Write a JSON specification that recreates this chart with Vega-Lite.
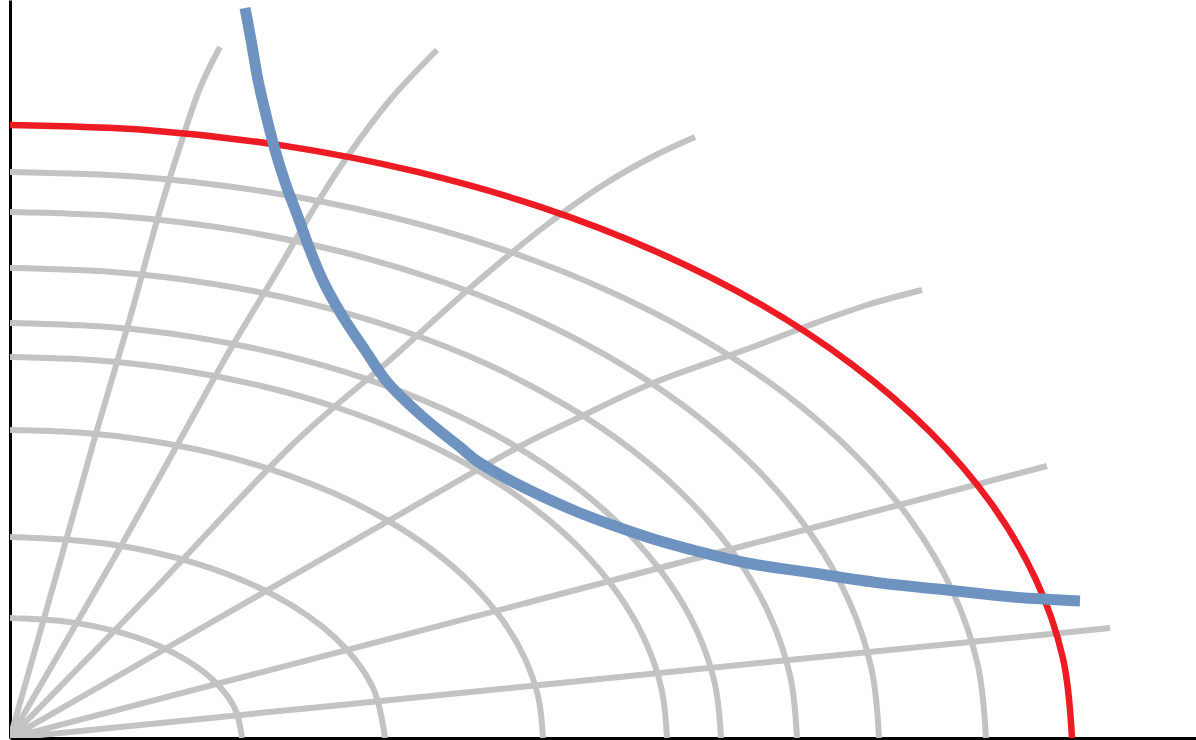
{
  "$schema": "https://vega.github.io/schema/vega-lite/v6.json",
  "width": 1186,
  "height": 738,
  "padding": {"left": 10, "top": 0, "right": 0, "bottom": 2},
  "autosize": {"type": "none"},
  "background": "white",
  "config": {
    "view": {"stroke": null},
    "axis": {"domainColor": "#000000", "domainWidth": 3, "ticks": false, "labels": false, "grid": false, "title": null, "zindex": 1}
  },
  "data": {"values": [
    {"g":"grid","s":"A1","i":0,"x":2.32,"y":0},{"g":"grid","s":"A1","i":1,"x":2.241,"y":0.311},{"g":"grid","s":"A1","i":2,"x":2.009,"y":0.6},{"g":"grid","s":"A1","i":3,"x":1.64,"y":0.849},{"g":"grid","s":"A1","i":4,"x":1.16,"y":1.039},{"g":"grid","s":"A1","i":5,"x":0.6,"y":1.159},{"g":"grid","s":"A1","i":6,"x":0,"y":1.2},
    {"g":"grid","s":"A2","i":0,"x":3.75,"y":0},{"g":"grid","s":"A2","i":1,"x":3.622,"y":0.52},{"g":"grid","s":"A2","i":2,"x":3.248,"y":1.005},{"g":"grid","s":"A2","i":3,"x":2.652,"y":1.421},{"g":"grid","s":"A2","i":4,"x":1.875,"y":1.741},{"g":"grid","s":"A2","i":5,"x":0.971,"y":1.942},{"g":"grid","s":"A2","i":6,"x":0,"y":2.01},
    {"g":"grid","s":"A3","i":0,"x":5.33,"y":0},{"g":"grid","s":"A3","i":1,"x":5.284,"y":0.402},{"g":"grid","s":"A3","i":2,"x":5.148,"y":0.797},{"g":"grid","s":"A3","i":3,"x":4.924,"y":1.179},{"g":"grid","s":"A3","i":4,"x":4.616,"y":1.54},{"g":"grid","s":"A3","i":5,"x":4.229,"y":1.875},{"g":"grid","s":"A3","i":6,"x":3.769,"y":2.178},{"g":"grid","s":"A3","i":7,"x":3.245,"y":2.444},{"g":"grid","s":"A3","i":8,"x":2.665,"y":2.667},{"g":"grid","s":"A3","i":9,"x":2.04,"y":2.846},{"g":"grid","s":"A3","i":10,"x":1.38,"y":2.975},{"g":"grid","s":"A3","i":11,"x":0.696,"y":3.054},{"g":"grid","s":"A3","i":12,"x":0,"y":3.08},
    {"g":"grid","s":"A4","i":0,"x":6.57,"y":0},{"g":"grid","s":"A4","i":1,"x":6.514,"y":0.497},{"g":"grid","s":"A4","i":2,"x":6.346,"y":0.986},{"g":"grid","s":"A4","i":3,"x":6.07,"y":1.458},{"g":"grid","s":"A4","i":4,"x":5.69,"y":1.905},{"g":"grid","s":"A4","i":5,"x":5.212,"y":2.319},{"g":"grid","s":"A4","i":6,"x":4.646,"y":2.694},{"g":"grid","s":"A4","i":7,"x":4.0,"y":3.023},{"g":"grid","s":"A4","i":8,"x":3.285,"y":3.3},{"g":"grid","s":"A4","i":9,"x":2.514,"y":3.52},{"g":"grid","s":"A4","i":10,"x":1.7,"y":3.68},{"g":"grid","s":"A4","i":11,"x":0.858,"y":3.777},{"g":"grid","s":"A4","i":12,"x":0,"y":3.81},
    {"g":"grid","s":"A5","i":0,"x":7.11,"y":0},{"g":"grid","s":"A5","i":1,"x":7.049,"y":0.542},{"g":"grid","s":"A5","i":2,"x":6.868,"y":1.074},{"g":"grid","s":"A5","i":3,"x":6.569,"y":1.588},{"g":"grid","s":"A5","i":4,"x":6.157,"y":2.075},{"g":"grid","s":"A5","i":5,"x":5.641,"y":2.526},{"g":"grid","s":"A5","i":6,"x":5.028,"y":2.934},{"g":"grid","s":"A5","i":7,"x":4.328,"y":3.292},{"g":"grid","s":"A5","i":8,"x":3.555,"y":3.594},{"g":"grid","s":"A5","i":9,"x":2.721,"y":3.834},{"g":"grid","s":"A5","i":10,"x":1.84,"y":4.009},{"g":"grid","s":"A5","i":11,"x":0.928,"y":4.114},{"g":"grid","s":"A5","i":12,"x":0,"y":4.15},
    {"g":"grid","s":"A6","i":0,"x":7.87,"y":0},{"g":"grid","s":"A6","i":1,"x":7.803,"y":0.613},{"g":"grid","s":"A6","i":2,"x":7.602,"y":1.216},{"g":"grid","s":"A6","i":3,"x":7.271,"y":1.799},{"g":"grid","s":"A6","i":4,"x":6.816,"y":2.35},{"g":"grid","s":"A6","i":5,"x":6.244,"y":2.861},{"g":"grid","s":"A6","i":6,"x":5.565,"y":3.323},{"g":"grid","s":"A6","i":7,"x":4.791,"y":3.729},{"g":"grid","s":"A6","i":8,"x":3.935,"y":4.07},{"g":"grid","s":"A6","i":9,"x":3.012,"y":4.342},{"g":"grid","s":"A6","i":10,"x":2.037,"y":4.54},{"g":"grid","s":"A6","i":11,"x":1.027,"y":4.66},{"g":"grid","s":"A6","i":12,"x":0,"y":4.7},
    {"g":"grid","s":"A7","i":0,"x":8.69,"y":0},{"g":"grid","s":"A7","i":1,"x":8.616,"y":0.687},{"g":"grid","s":"A7","i":2,"x":8.394,"y":1.361},{"g":"grid","s":"A7","i":3,"x":8.028,"y":2.013},{"g":"grid","s":"A7","i":4,"x":7.526,"y":2.63},{"g":"grid","s":"A7","i":5,"x":6.894,"y":3.202},{"g":"grid","s":"A7","i":6,"x":6.145,"y":3.719},{"g":"grid","s":"A7","i":7,"x":5.29,"y":4.173},{"g":"grid","s":"A7","i":8,"x":4.345,"y":4.555},{"g":"grid","s":"A7","i":9,"x":3.325,"y":4.86},{"g":"grid","s":"A7","i":10,"x":2.249,"y":5.081},{"g":"grid","s":"A7","i":11,"x":1.134,"y":5.215},{"g":"grid","s":"A7","i":12,"x":0,"y":5.26},
    {"g":"grid","s":"A8","i":0,"x":9.76,"y":0},{"g":"grid","s":"A8","i":1,"x":9.676,"y":0.739},{"g":"grid","s":"A8","i":2,"x":9.427,"y":1.465},{"g":"grid","s":"A8","i":3,"x":9.017,"y":2.166},{"g":"grid","s":"A8","i":4,"x":8.452,"y":2.83},{"g":"grid","s":"A8","i":5,"x":7.743,"y":3.446},{"g":"grid","s":"A8","i":6,"x":6.901,"y":4.002},{"g":"grid","s":"A8","i":7,"x":5.942,"y":4.49},{"g":"grid","s":"A8","i":8,"x":4.88,"y":4.902},{"g":"grid","s":"A8","i":9,"x":3.735,"y":5.229},{"g":"grid","s":"A8","i":10,"x":2.526,"y":5.467},{"g":"grid","s":"A8","i":11,"x":1.274,"y":5.612},{"g":"grid","s":"A8","i":12,"x":0,"y":5.66},
    {"g":"grid","s":"R1","i":0,"x":0,"y":0},{"g":"grid","s":"R1","i":1,"x":0.5,"y":1.76},{"g":"grid","s":"R1","i":2,"x":0.87,"y":3.08},{"g":"grid","s":"R1","i":3,"x":1.2,"y":4.2},{"g":"grid","s":"R1","i":4,"x":1.48,"y":5.21},{"g":"grid","s":"R1","i":5,"x":1.72,"y":5.98},{"g":"grid","s":"R1","i":6,"x":1.9,"y":6.5},{"g":"grid","s":"R1","i":7,"x":2.1,"y":6.91},
    {"g":"grid","s":"R2","i":0,"x":0,"y":0},{"g":"grid","s":"R2","i":1,"x":1.03,"y":1.78},{"g":"grid","s":"R2","i":2,"x":1.7,"y":2.98},{"g":"grid","s":"R2","i":3,"x":2.2,"y":3.88},{"g":"grid","s":"R2","i":4,"x":2.65,"y":4.63},{"g":"grid","s":"R2","i":5,"x":3.0,"y":5.23},{"g":"grid","s":"R2","i":6,"x":3.35,"y":5.78},{"g":"grid","s":"R2","i":7,"x":3.8,"y":6.38},{"g":"grid","s":"R2","i":8,"x":4.27,"y":6.88},
    {"g":"grid","s":"R3","i":0,"x":0,"y":0},{"g":"grid","s":"R3","i":1,"x":1.4,"y":1.44},{"g":"grid","s":"R3","i":2,"x":2.8,"y":2.91},{"g":"grid","s":"R3","i":3,"x":3.8,"y":3.78},{"g":"grid","s":"R3","i":4,"x":4.6,"y":4.5},{"g":"grid","s":"R3","i":5,"x":5.3,"y":5.08},{"g":"grid","s":"R3","i":6,"x":5.9,"y":5.51},{"g":"grid","s":"R3","i":7,"x":6.4,"y":5.8},{"g":"grid","s":"R3","i":8,"x":6.85,"y":6.01},
    {"g":"grid","s":"R4","i":0,"x":0,"y":0},{"g":"grid","s":"R4","i":1,"x":2.7,"y":1.55},{"g":"grid","s":"R4","i":2,"x":3.8,"y":2.18},{"g":"grid","s":"R4","i":3,"x":5.03,"y":2.88},{"g":"grid","s":"R4","i":4,"x":5.7,"y":3.21},{"g":"grid","s":"R4","i":5,"x":6.43,"y":3.55},{"g":"grid","s":"R4","i":6,"x":7.4,"y":3.9},{"g":"grid","s":"R4","i":7,"x":8.0,"y":4.13},{"g":"grid","s":"R4","i":8,"x":8.57,"y":4.33},{"g":"grid","s":"R4","i":9,"x":9.12,"y":4.48},
    {"g":"grid","s":"R5","i":0,"x":0,"y":0},{"g":"grid","s":"R5","i":1,"x":5.2,"y":1.36},{"g":"grid","s":"R5","i":2,"x":10.37,"y":2.72},
    {"g":"grid","s":"R6","i":0,"x":0,"y":0},{"g":"grid","s":"R6","i":1,"x":5.5,"y":0.55},{"g":"grid","s":"R6","i":2,"x":11.0,"y":1.1},
    {"g":"red","s":"C","i":0,"x":10.62,"y":0},{"g":"red","s":"C","i":1,"x":10.529,"y":0.8},{"g":"red","s":"C","i":2,"x":10.258,"y":1.587},{"g":"red","s":"C","i":3,"x":9.812,"y":2.346},{"g":"red","s":"C","i":4,"x":9.197,"y":3.065},{"g":"red","s":"C","i":5,"x":8.425,"y":3.732},{"g":"red","s":"C","i":6,"x":7.51,"y":4.335},{"g":"red","s":"C","i":7,"x":6.465,"y":4.863},{"g":"red","s":"C","i":8,"x":5.31,"y":5.309},{"g":"red","s":"C","i":9,"x":4.064,"y":5.663},{"g":"red","s":"C","i":10,"x":2.749,"y":5.921},{"g":"red","s":"C","i":11,"x":1.386,"y":6.078},{"g":"red","s":"C","i":12,"x":0,"y":6.13},
    {"g":"blue","s":"B","i":0,"x":2.35,"y":7.3},{"g":"blue","s":"B","i":1,"x":2.41,"y":6.98},{"g":"blue","s":"B","i":2,"x":2.48,"y":6.58},{"g":"blue","s":"B","i":3,"x":2.56,"y":6.23},{"g":"blue","s":"B","i":4,"x":2.65,"y":5.88},{"g":"blue","s":"B","i":5,"x":2.76,"y":5.53},{"g":"blue","s":"B","i":6,"x":2.88,"y":5.21},{"g":"blue","s":"B","i":7,"x":3.0,"y":4.88},{"g":"blue","s":"B","i":8,"x":3.14,"y":4.55},{"g":"blue","s":"B","i":9,"x":3.33,"y":4.21},{"g":"blue","s":"B","i":10,"x":3.55,"y":3.88},{"g":"blue","s":"B","i":11,"x":3.78,"y":3.55},{"g":"blue","s":"B","i":12,"x":4.13,"y":3.21},{"g":"blue","s":"B","i":13,"x":4.5,"y":2.91},{"g":"blue","s":"B","i":14,"x":4.7,"y":2.75},{"g":"blue","s":"B","i":15,"x":5.13,"y":2.51},{"g":"blue","s":"B","i":16,"x":5.7,"y":2.25},{"g":"blue","s":"B","i":17,"x":6.37,"y":2.01},{"g":"blue","s":"B","i":18,"x":6.83,"y":1.88},{"g":"blue","s":"B","i":19,"x":7.37,"y":1.75},{"g":"blue","s":"B","i":20,"x":8.03,"y":1.65},{"g":"blue","s":"B","i":21,"x":8.7,"y":1.55},{"g":"blue","s":"B","i":22,"x":9.37,"y":1.48},{"g":"blue","s":"B","i":23,"x":10.03,"y":1.41},{"g":"blue","s":"B","i":24,"x":10.7,"y":1.37}
  ]},
  "encoding": {
    "x": {"field": "x", "type": "quantitative", "scale": {"domain": [0, 11.86], "nice": false, "zero": false}, "title": null},
    "y": {"field": "y", "type": "quantitative", "scale": {"domain": [0, 7.38], "nice": false, "zero": false}, "title": null},
    "detail": {"field": "s", "type": "nominal"},
    "order": {"field": "i", "type": "quantitative"}
  },
  "layer": [
    {"transform": [{"filter": "datum.g == 'grid'"}], "mark": {"type": "line", "color": "#c3c3c3", "strokeWidth": 6, "interpolate": "cardinal", "clip": true}},
    {"transform": [{"filter": "datum.g == 'red'"}], "mark": {"type": "line", "color": "#ed1c24", "strokeWidth": 6.5, "interpolate": "cardinal", "clip": true}},
    {"transform": [{"filter": "datum.g == 'blue'"}], "mark": {"type": "line", "color": "#6f93c0", "strokeWidth": 11, "interpolate": "cardinal", "clip": true}}
  ]
}
